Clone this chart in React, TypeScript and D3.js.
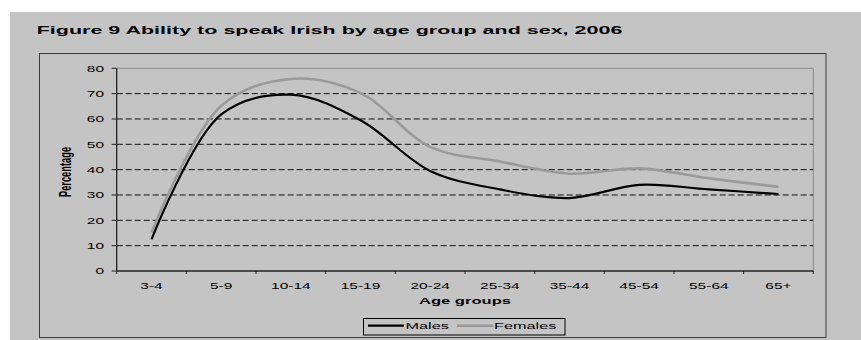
import React from 'react';
import * as d3 from 'd3';

const ageGroups = ['3-4', '5-9', '10-14', '15-19', '20-24', '25-34', '35-44', '45-54', '55-64', '65+'];
const males = [12.5, 61.8, 69.6, 59.5, 39.5, 32.2, 28.8, 34, 32.2, 30.4];
const females = [15.2, 65.2, 75.8, 70.2, 49, 43.2, 38.4, 40.5, 36.6, 33.2];
const yTicks = [0, 10, 20, 30, 40, 50, 60, 70, 80];

// the source image is stretched sideways, so all text is widened
const SX = 1.75;
const FONT = 'Liberation Sans, Arial, sans-serif';

function Txt({ x, y, size, bold = false, anchor = 'start', sx = SX, rotate = 0, children }: any) {
  return (
    <g transform={`translate(${x},${y}) scale(${sx},1)${rotate ? ` rotate(${rotate})` : ''}`}>
      <text x={0} y={0} fontSize={size} fontWeight={bold ? 'bold' : 'normal'} textAnchor={anchor}
        fontFamily={FONT} fill="#000">{children}</text>
    </g>
  );
}

export default function App() {
  const width = 861;
  const height = 340;

  const left = 116.7, right = 813.3, top = 68.3, bottom = 271;

  const x = d3.scaleBand<string>().domain(ageGroups).range([left, right]).padding(0);
  const y = d3.scaleLinear().domain([0, 80]).range([bottom, top]);

  const line = d3.line<number>()
    .x((_, i) => (x(ageGroups[i]) as number) + x.bandwidth() / 2)
    .y(d => y(d))
    .curve(d3.curveCatmullRom.alpha(0.5));

  const boundaries = ageGroups.map(g => x(g) as number).concat([right]);

  return (
    <div style={{ position: 'absolute', left: 0, top: 0 }}>
      <svg width={width} height={height} style={{ display: 'block' }}>
        <rect x={0} y={0} width={width} height={height} fill="#fff" />
        <rect x={10} y={12} width={851} height={328} fill="#c4c4c4" />

        <Txt x={36.7} y={34} size={11.5} bold sx={1.87}>Figure 9 Ability to speak Irish by age group and sex, 2006</Txt>

        {/* chart area border */}
        <rect x={39.5} y={53.5} width={786.5} height={284} fill="none" stroke="#3a3a3a" strokeWidth={1} />

        {/* plot area border (top, right) */}
        <path d={`M${left},${top}H${right}V${bottom}`} fill="none" stroke="#8c8c8c" strokeWidth={1} />

        {/* gridlines */}
        {yTicks.filter(t => t > 0 && t < 80).map(t => (
          <line key={t} x1={left} x2={right} y1={y(t)} y2={y(t)} stroke="#111" strokeWidth={1}
            strokeDasharray="6,3" />
        ))}

        {/* y axis */}
        <line x1={left} x2={left} y1={top} y2={bottom} stroke="#222" strokeWidth={1.3} />
        {yTicks.map(t => (
          <g key={t}>
            <line x1={left - 5} x2={left} y1={y(t)} y2={y(t)} stroke="#222" strokeWidth={1} />
            <Txt x={104} y={y(t) + 3.3} size={9} anchor="end" sx={1.72}>{t}</Txt>
          </g>
        ))}

        {/* x axis */}
        <line x1={left} x2={right} y1={bottom} y2={bottom} stroke="#222" strokeWidth={1.3} />
        {boundaries.map((b, i) => (
          <line key={i} x1={b} x2={b} y1={bottom} y2={bottom + 3} stroke="#222" strokeWidth={1} />
        ))}
        {ageGroups.map(g => (
          <Txt key={g} x={(x(g) as number) + x.bandwidth() / 2} y={288.5} size={9} anchor="middle" sx={1.72}>{g}</Txt>
        ))}

        <Txt x={(left + right) / 2} y={304.3} size={9.5} bold anchor="middle">Age groups</Txt>
        <Txt x={70.5} y={172} size={9.3} bold anchor="middle" rotate={-90}>Percentage</Txt>

        {/* series */}
        <path d={line(females) || ''} fill="none" stroke="#9a9a9a" strokeWidth={2.6} strokeLinejoin="round" />
        <path d={line(males) || ''} fill="none" stroke="#000" strokeWidth={2.2} strokeLinejoin="round" />

        {/* legend */}
        <rect x={363.5} y={318.5} width={201.5} height={16.5} fill="none" stroke="#000" strokeWidth={1} />
        <line x1={368} x2={404} y1={325.7} y2={325.7} stroke="#000" strokeWidth={2.2} />
        <Txt x={405.5} y={329} size={9.3}>Males</Txt>
        <line x1={457} x2={493} y1={325.7} y2={325.7} stroke="#9a9a9a" strokeWidth={2.6} />
        <Txt x={494} y={329} size={9.3}>Females</Txt>
      </svg>
    </div>
  );
}
